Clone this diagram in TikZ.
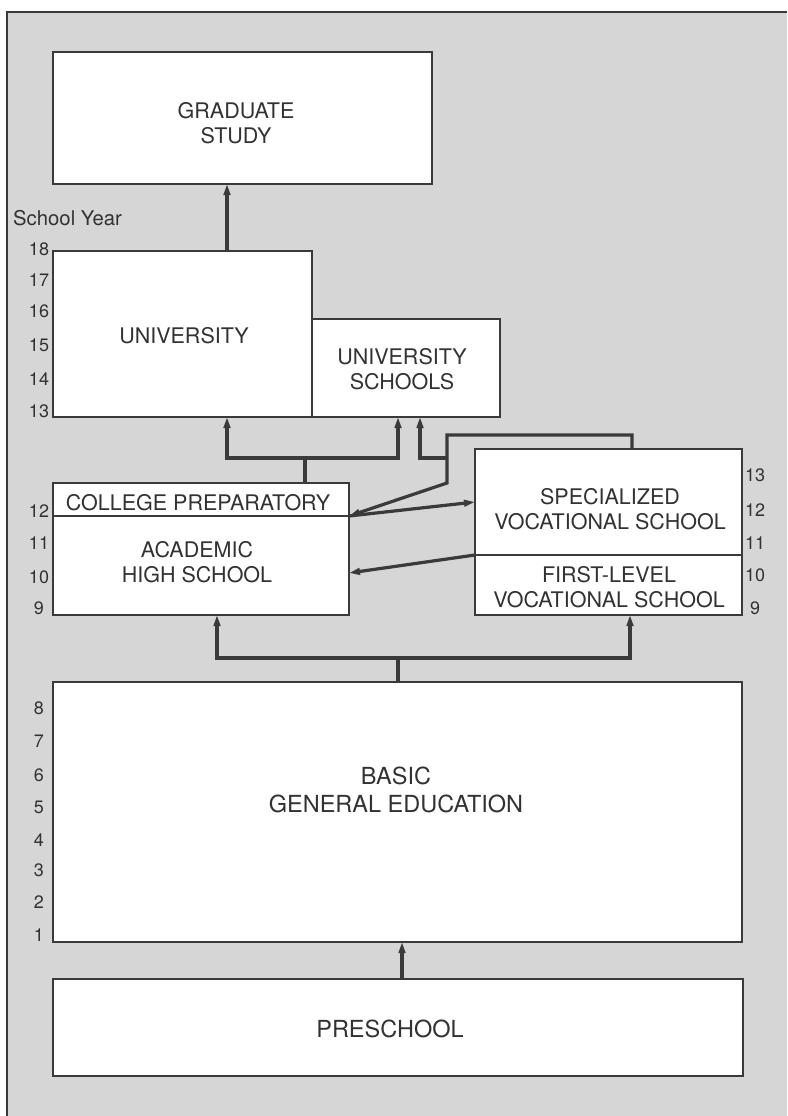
\documentclass[tikz,border=0pt]{standalone}
\usepackage{fontspec}
\setmainfont{TeX Gyre Heros}
\usetikzlibrary{arrows.meta,calc}
\definecolor{bgc}{RGB}{214,214,214}
\definecolor{linec}{RGB}{58,58,58}
\definecolor{txtc}{RGB}{50,50,50}
\begin{document}
\begin{tikzpicture}[x=1pt,y=-1pt,
  >={Triangle[length=11pt,width=6.5pt]},
  box/.style={draw=linec, fill=white, line width=1.8pt, inner sep=0pt, outer sep=0pt},
  conn/.style={draw=linec, line width=3.2pt},
  lbl/.style={text=txtc, align=center, inner sep=0pt, font=\fontsize{21.5}{25}\selectfont},
  biglbl/.style={text=txtc, align=center, inner sep=0pt, font=\fontsize{23.5}{28}\selectfont},
  num/.style={text=txtc, inner sep=0pt, font=\fontsize{18}{20}\selectfont}]
\useasboundingbox (0,0) rectangle (787,1116);
\fill[white] (0,0) rectangle (787,1116);
\fill[bgc] (7,12) rectangle (787,1116);
\draw[linec, line width=1.5pt] (7,1116) -- (7,12) -- (787,12);

% boxes
\node[box, minimum width=379pt, minimum height=132pt] (grad) at (242.5,118) {};
\node[box, minimum width=259pt, minimum height=166pt] (univ) at (182.5,334) {};
\node[box, minimum width=188pt, minimum height=98pt] (us) at (406,368) {};
\node[box, minimum width=296pt, minimum height=33pt] (prep) at (201,499.5) {};
\node[box, minimum width=296pt, minimum height=99pt] (acad) at (201,565.5) {};
\node[box, minimum width=267pt, minimum height=106pt] (spec) at (608.5,502) {};
\node[box, minimum width=267pt, minimum height=60pt] (first) at (608.5,585) {};
\node[box, minimum width=689pt, minimum height=260pt] (basic) at (397.5,812) {};
\node[box, minimum width=690pt, minimum height=97pt] (pre) at (398,1027.5) {};

% texts
\node[lbl] (gradt) at (236,123.5) {GRADUATE\\STUDY};
\node[lbl] (univt) at (184,336) {UNIVERSITY};
\node[lbl] (ust) at (402,369) {UNIVERSITY\\SCHOOLS};
\node[lbl] (prept) at (198,503) {COLLEGE PREPARATORY};
\node[lbl] (acadt) at (197,562) {ACADEMIC\\HIGH SCHOOL};
\node[lbl] (spect) at (610,509) {SPECIALIZED\\VOCATIONAL SCHOOL};
\node[lbl] (firstt) at (609,587) {FIRST-LEVEL\\VOCATIONAL SCHOOL};
\node[biglbl] (basict) at (396,789.5) {BASIC\\GENERAL EDUCATION};
\node[biglbl] (pret) at (390,1029) {PRESCHOOL};

\node[text=txtc, inner sep=0pt, anchor=west, font=\fontsize{20.3}{22}\selectfont] (sy) at (13,218) {School Year};

% year numbers
\foreach \n/\y in {18/249,17/280,16/311,15/345,14/379,13/411,12/511,11/543,10/577,9/608}
  \node[num] (l\n) at (39,\y) {\n};
\foreach \n/\y in {13/475,12/510,11/543,10/575,9/608}
  \node[num] (r\n) at (755,\y) {\n};
\foreach \n/\y in {8/708,7/741,6/775,5/807,4/840,3/870,2/902,1/935}
  \node[num] (b\n) at (39,\y) {\n};

% connectors
\coordinate (a0) at (305,458);
\coordinate (a1) at (227,458);
\coordinate (a2) at (398,458);
\draw[conn,->] (univ.north -| a1) -- (grad.south -| a1);
\draw[conn] (prep.north -| a0) -- (a0);
\draw[conn,<->] (univ.south -| a1) -- (a1) -- (a2) -- (us.south -| a2);

\coordinate (b0) at (632,435);
\coordinate (b1) at (447,435);
\coordinate (b2) at (447,483);
\coordinate (b3) at (447,458);
\coordinate (b4) at (420,458);
\draw[conn,->] (spec.north -| b0) -- (b0) -- (b1) -- (b2) -- (prep.south east);
\draw[conn,->] (b3) -- (b4) -- (us.south -| b4);
\draw[conn,->] (prep.south east) -- (spec.west);
\coordinate (c0) at (349,573);
\draw[conn,->] (first.north west) -- (acad.east |- c0);

\coordinate (d0) at (398,658);
\coordinate (d1) at (217,658);
\coordinate (d2) at (630,658);
\draw[conn] (basic.north -| d0) -- (d0);
\draw[conn,<->] (acad.south -| d1) -- (d1) -- (d2) -- (first.south -| d2);

\coordinate (e0) at (402,960);
\draw[conn,->] (pre.north -| e0) -- (basic.south -| e0);
\end{tikzpicture}
\end{document}
